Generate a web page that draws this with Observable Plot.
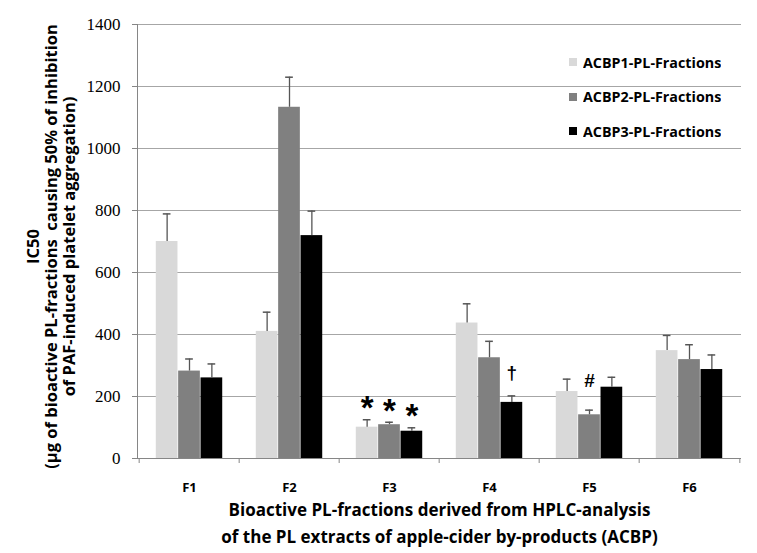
<!DOCTYPE html>
<html>
<head>
<meta charset="utf-8">
<script src="https://cdn.jsdelivr.net/npm/d3@7"></script>
<script src="https://cdn.jsdelivr.net/npm/@observablehq/plot@0.6"></script>
<style>
  body { margin: 0; background: #fff; }
  #wrap { position: relative; width: 757px; height: 553px; background: #fff; }
  #wrap svg { display: block; }
  #legend { position: absolute; left: 569px; top: 45px; font-family: "Open Sans", sans-serif; font-weight: bold; font-size: 14.3px; color: #000; }
  #legend .lg-swatch { height: 34.5px; margin: 0; padding: 0; display: flex; align-items: center; }
  #legend .lg-swatch svg { margin-right: 6px; }
</style>
</head>
<body>
<div id="wrap"></div>
<script>
// ---- data ----
const fractions = ["F1", "F2", "F3", "F4", "F5", "F6"];
const seriesNames = ["ACBP1-PL-Fractions", "ACBP2-PL-Fractions", "ACBP3-PL-Fractions"];
const acbp1Mean = [700, 410, 101, 437, 216, 348];
const acbp1Sd   = [89, 62, 24, 62, 40, 49];
const acbp2Mean = [282, 1133, 109, 325, 141, 319];
const acbp2Sd   = [39, 97, 8, 53, 15, 48];
const acbp3Mean = [260, 719, 88, 181, 230, 287];
const acbp3Sd   = [45, 79, 11, 21, 32, 47];
const seriesColors = ["#d9d9d9", "#808080", "#000000"];
const yTicks = [0, 200, 400, 600, 800, 1000, 1200, 1400];
const annotFraction = ["F3", "F3", "F3", "F4", "F5"];
const annotSeries   = [0, 1, 2, 2, 1];
const annotLabel    = ["*", "*", "*", "\u2020", "#"];
const xTitle = "Bioactive PL-fractions derived from HPLC-analysis\nof the PL extracts of apple-cider by-products (ACBP)";
const yTitle = "IC50\n(\u00b5g of bioactive PL-fractions  causing 50% of inhibition\nof PAF-induced platelet aggregation)";

// ---- build tables ----
const means = [acbp1Mean, acbp2Mean, acbp3Mean];
const sds = [acbp1Sd, acbp2Sd, acbp3Sd];
const seriesRows = seriesNames.map((s, j) => fractions.map((f, i) => ({
  fraction: f, series: s, value: means[j][i], top: means[j][i] + sds[j][i]
})));
const annots = annotLabel.map((label, k) => {
  const i = fractions.indexOf(annotFraction[k]);
  const j = annotSeries[k];
  return {fraction: annotFraction[k], j, top: means[j][i] + sds[j][i], label};
});

// ---- layout ----
const W = 757, H = 553, ML = 137, MR = 16, MT = 24, MB = 95;
const step = (W - ML - MR) / fractions.length;   // category band
const gap = step / 3;                             // Excel gap width
const barW = (step - gap) / 3;
const inL = j => gap / 2 + j * barW;
const inR = j => step - gap / 2 - (j + 1) * barW;
const off = j => (j - 1) * barW;

const gridColor = "#a6a6a6";
const axisColor = "#868686";
const errColor = "#555555";
const sans = "'Open Sans', sans-serif";

const marks = [
  Plot.ruleY(yTicks.slice(1), {stroke: gridColor}),
  Plot.ruleY([0], {stroke: axisColor}),
  Plot.frame({anchor: "left", stroke: axisColor}),
  Plot.axisY({ticks: yTicks, tickSize: 5, tickPadding: 12, tickFormat: d => String(d), stroke: axisColor,
    fontFamily: "Liberation Serif", fontSize: 17, label: null}),
  Plot.axisX({tickSize: 0, tickPadding: 24, fontWeight: "bold", fontSize: 13, fontFamily: sans, label: null}),
  // category boundary ticks
  Plot.ruleX(fractions, {x: d => d, y1: 0, y2: 0, insetBottom: -5, dx: -step / 2, stroke: axisColor}),
  Plot.ruleX(fractions.slice(-1), {x: d => d, y1: 0, y2: 0, insetBottom: -5, dx: step / 2, stroke: axisColor})
];
seriesRows.forEach((data, j) => {
  marks.push(
    Plot.barY(data, {x: "fraction", y: "value", fill: () => seriesNames[j], insetLeft: inL(j), insetRight: inR(j)}),
    Plot.ruleX(data, {x: "fraction", y1: "value", y2: "top", dx: off(j), stroke: errColor, strokeWidth: 1.3}),
    Plot.tickY(data, {x: "fraction", y: "top", stroke: errColor, strokeWidth: 1.5, insetLeft: inL(j) + 7, insetRight: inR(j) + 7})
  );
});
const annotStyle = {
  "*": {fontSize: 33, dy: -11},
  "\u2020": {fontSize: 19, dy: -23},
  "#": {fontSize: 19, dy: -29}
};
annots.forEach(a => {
  marks.push(Plot.text([a], {x: "fraction", y: "top", text: "label", dx: off(a.j), dy: annotStyle[a.label].dy,
    fontSize: annotStyle[a.label].fontSize, fontWeight: "bold", fontFamily: "Liberation Sans", fill: "#000"}));
});
marks.push(
  Plot.text([xTitle], {frameAnchor: "bottom", lineAnchor: "top", dy: 39, lineHeight: 1.55,
    fontSize: 17, fontWeight: "bold", fontFamily: sans, fill: "#000"}),
  Plot.text([yTitle], {frameAnchor: "left", textAnchor: "middle", lineAnchor: "middle", rotate: -90,
    lineHeight: 1.1, dx: -86, dy: 5, fontSize: 16.5, fontWeight: "bold", fontFamily: sans, fill: "#000"})
);

const plot = Plot.plot({
  width: W, height: H,
  marginLeft: ML, marginRight: MR, marginTop: MT, marginBottom: MB,
  style: {background: "#fff", fontFamily: sans, color: "#000"},
  x: {domain: fractions, padding: 0},
  y: {domain: [0, 1400]},
  color: {domain: seriesNames, range: seriesColors},
  marks
});

const wrap = document.getElementById("wrap");
wrap.appendChild(plot);

const legend = Plot.legend({
  color: {domain: seriesNames, range: seriesColors},
  legend: "swatches",
  columns: 1,
  swatchSize: 8,
  className: "lg"
});
legend.id = "legend";
wrap.appendChild(legend);
</script>
</body>
</html>
